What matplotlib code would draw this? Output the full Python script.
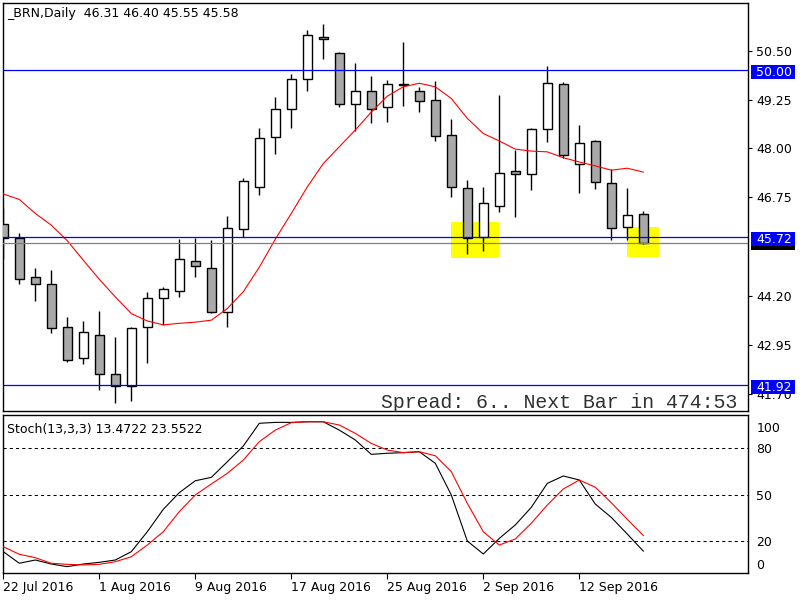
import matplotlib
matplotlib.use("Agg")
import matplotlib.pyplot as plt
from matplotlib.patches import Rectangle
from matplotlib.transforms import blended_transform_factory

# daily bars of _BRN, 22 Jul 2016 .. 16 Sep 2016 (one entry per bar)
opens = [46.06, 45.69, 44.69, 44.53, 43.41, 42.61, 43.20, 42.20, 41.89, 43.41,
         44.15, 44.33, 45.12, 44.94, 43.81, 45.92, 47.02, 48.28, 49.00, 49.78,
         50.87, 50.44, 49.14, 49.46, 49.05, 49.64, 49.47, 49.23, 48.33, 46.97,
         45.73, 46.51, 47.41, 47.33, 48.49, 49.64, 47.61, 48.18, 47.10, 45.97, 46.31]
highs = [46.46, 45.84, 44.93, 44.88, 43.67, 43.57, 43.82, 43.16, 43.41, 44.31,
         44.44, 45.67, 45.70, 45.65, 46.26, 47.23, 48.52, 49.33, 49.91, 51.03,
         51.19, 50.47, 50.19, 49.85, 49.75, 50.73, 49.57, 49.74, 48.75, 47.20,
         47.01, 49.37, 47.97, 48.53, 50.11, 49.70, 48.59, 48.21, 47.46, 46.97, 46.40]
lows = [45.15, 44.52, 44.09, 43.25, 42.52, 42.47, 41.81, 41.47, 41.52, 42.48,
        43.46, 44.19, 44.70, 43.77, 43.42, 45.72, 46.81, 47.86, 48.53, 49.48,
        50.29, 49.07, 48.44, 48.66, 48.68, 49.09, 48.94, 48.20, 46.76, 45.29,
        45.37, 46.36, 46.24, 46.93, 48.17, 47.76, 46.86, 46.95, 45.65, 45.65, 45.55]
closes = [45.69, 44.66, 44.53, 43.38, 42.58, 43.30, 42.20, 41.89, 43.38, 44.16,
          44.38, 45.15, 44.97, 43.79, 45.95, 47.15, 48.26, 49.00, 49.79, 50.90,
          50.80, 49.14, 49.46, 49.02, 49.64, 49.63, 49.21, 48.31, 47.00, 45.71,
          46.59, 47.38, 47.33, 48.49, 49.67, 47.83, 48.13, 47.13, 45.95, 46.30, 45.58]
ma = [46.83, 46.69, 46.33, 46.03, 45.63, 45.13, 44.64, 44.19, 43.76, 43.57,
      43.47, 43.51, 43.54, 43.59, 43.89, 44.32, 44.95, 45.67, 46.33, 47.01,
      47.61, 48.04, 48.47, 48.93, 49.34, 49.58, 49.67, 49.58, 49.28, 48.77,
      48.38, 48.19, 47.98, 47.93, 47.91, 47.76, 47.65, 47.55, 47.44, 47.49, 47.39]
stoch_k = [13.1, 5.6, 7.7, 5.1, 3.4, 5.1, 6.2, 7.7, 13.1, 26.0,
           40.5, 51.3, 59.0, 61.2, 71.3, 81.5, 96.2, 96.8, 96.8, 97.2,
           97.2, 91.8, 85.4, 76.1, 76.8, 77.2, 77.8, 70.3, 49.8, 20.0,
           11.6, 21.7, 30.4, 41.8, 57.3, 62.1, 59.5, 43.9, 35.3, 24.5, 13.4722]
stoch_d = [16.3, 11.4, 9.2, 5.6, 4.9, 4.5, 4.9, 6.6, 9.8, 17.4,
           26.0, 39.0, 49.8, 56.9, 63.8, 72.4, 84.3, 91.8, 96.6, 97.2,
           97.2, 95.1, 89.7, 83.2, 78.9, 77.2, 77.8, 75.2, 64.9, 44.4,
           26.0, 17.4, 21.3, 31.5, 43.3, 53.7, 59.5, 54.8, 44.8, 34.0, 23.5522]

date_ticks = [0, 6, 12, 18, 24, 30, 36]
date_labels = ['22 Jul 2016', '1 Aug 2016', '9 Aug 2016', '17 Aug 2016',
               '25 Aug 2016', '2 Sep 2016', '12 Sep 2016']
price_ticks = [50.50, 49.25, 48.00, 46.75, 44.20, 42.95, 41.70]
level_lines = [50.00, 45.72, 41.92]
bid = 45.58
stoch_levels = [20, 50, 80]
# yellow zones: (first bar, last bar, bottom, top)
zones = [(28, 31, 45.19, 46.115), (39, 41, 45.22, 45.99)]

plt.rcParams['font.family'] = ['DejaVu Sans']
fig = plt.figure(figsize=(8, 6), dpi=100)
ax = fig.add_axes([3/800, 189/600, 745/800, 408/600])
ax2 = fig.add_axes([3/800, 27/600, 745/800, 158.5/600])

xmin = -0.3 / 16
xmax = xmin + 745 / 16

# main chart
for b0, b1, lo, hi in zones:
    ax.add_patch(Rectangle((b0, lo), b1 - b0, hi - lo, fc='#FFFF00', ec='none', zorder=1))

for i in range(len(opens)):
    o, h, l, c = opens[i], highs[i], lows[i], closes[i]
    ax.vlines(i, l, h, color='black', lw=1.0, zorder=3)
    fill = 'white' if c > o else '#A9A9A9'
    ax.add_patch(Rectangle((i - 0.3, min(o, c)), 0.6, max(abs(c - o), 0.01),
                           fc=fill, ec='black', lw=1.0, zorder=4))

ax.plot(range(len(ma)), ma, color='red', lw=0.8, zorder=5)
for lv in level_lines:
    ax.axhline(lv, color='#0000FF', lw=0.9, zorder=6)
ax.axhline(bid, color='#808080', lw=0.9, zorder=6)

ax.set_xlim(xmin, xmax)
ax.set_ylim(41.26, 51.73)
ax.yaxis.tick_right()
ax.set_yticks(price_ticks)
ax.set_yticklabels(['%.2f' % p for p in price_ticks])
ax.tick_params(axis='y', direction='out', length=3, width=0.8, pad=3, labelsize=9)
ax.tick_params(axis='x', bottom=False, labelbottom=False)
for sp in ax.spines.values():
    sp.set_linewidth(1.0)

# price labels on the right scale
tr = blended_transform_factory(ax.transAxes, ax.transData)
def price_box(value, color, shift, label=True):
    yc = value - shift
    ax.add_patch(Rectangle((1.004, yc - 7 / 38.97), 0.059, 14 / 38.97, transform=tr,
                           fc=color, ec='none', clip_on=False, zorder=7))
    if label:
        ax.text(1.0107, yc, '%.2f' % value, transform=tr, color='white', fontsize=9,
                ha='left', va='center', clip_on=False, zorder=8)

# bid label sits behind the 45.72 label, only its lower edge shows
price_box(bid, 'black', 0.0, label=False)
for lv in level_lines:
    price_box(lv, '#0000FF', 0.05)

fig.text(7/800, 1 - 14/600, '_BRN,Daily  %.2f %.2f %.2f %.2f'
         % (opens[-1], highs[-1], lows[-1], closes[-1]), fontsize=9, va='center')
fig.text(737/800, 1 - 402/600, 'Spread: 6.. Next Bar in 474:53', family='Liberation Mono',
         fontsize=14.3, ha='right', va='center', color='#303030')

# stochastic
for lv in stoch_levels:
    ax2.axhline(lv, color='black', lw=0.75, ls=(0, (3, 3)), zorder=1)
ax2.plot(range(len(stoch_k)), stoch_k, color='black', lw=0.8, zorder=3)
ax2.plot(range(len(stoch_d)), stoch_d, color='red', lw=0.8, zorder=3)
ax2.set_xlim(xmin, xmax)
ax2.set_ylim(-0.71, 101.9)
ax2.yaxis.tick_right()
ax2.set_yticks([93.8, 80, 50, 20, 5.1])
ax2.set_yticklabels(['100', '80', '50', '20', '0'])
ax2.tick_params(axis='y', length=0, pad=6, labelsize=9)
ax2.set_xticks(date_ticks)
ax2.set_xticklabels(date_labels)
ax2.tick_params(axis='x', direction='out', length=4, width=0.8, pad=1.5, labelsize=9)
for lab in ax2.get_xticklabels():
    lab.set_horizontalalignment('left')
for sp in ax2.spines.values():
    sp.set_linewidth(1.0)
fig.text(7/800, 1 - 429/600, 'Stoch(13,3,3) %.4f %.4f' % (stoch_k[-1], stoch_d[-1]),
         fontsize=9, va='center')

fig.savefig('out.png', dpi=100)
